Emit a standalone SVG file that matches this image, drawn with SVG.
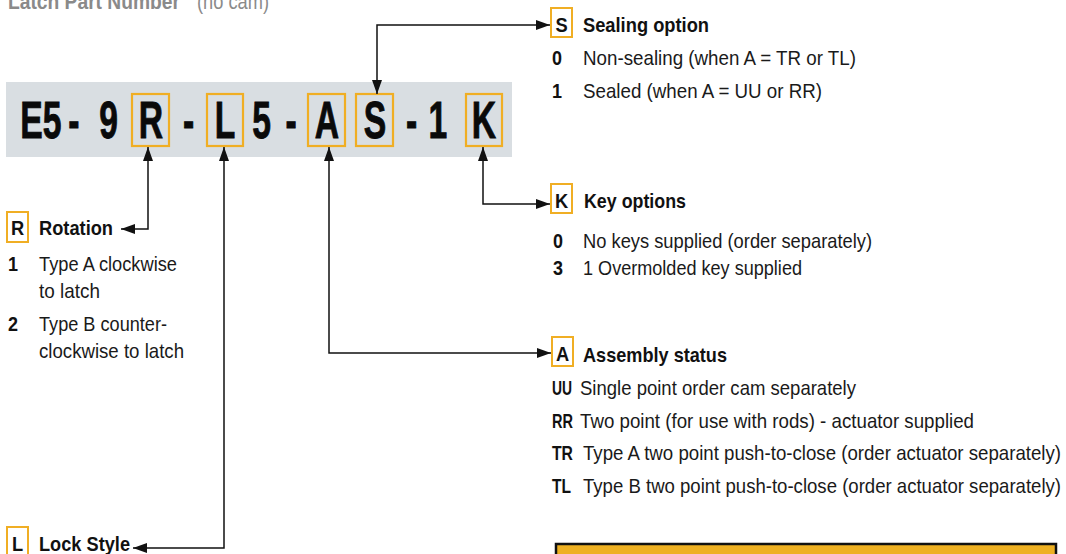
<svg xmlns="http://www.w3.org/2000/svg" width="1066" height="554" viewBox="0 0 1066 554">
<style>
.b{font-family:"Liberation Sans",Arial,sans-serif;font-weight:bold;font-size:21px;fill:#111}
.r{font-family:"Liberation Sans",Arial,sans-serif;font-size:21px;fill:#1a1a1a}
.big{font-family:"Liberation Sans",Arial,sans-serif;font-weight:bold;font-size:51px;fill:#0a0a0a;stroke:#0a0a0a;stroke-width:0.9;text-anchor:middle}
.hl{fill:none;stroke:#f0ae24;stroke-width:2.2}
.lb{fill:#fff;stroke:#f0ae24;stroke-width:2}
.conn{fill:none;stroke:#111;stroke-width:1.5}
.title{font-family:"Liberation Sans",Arial,sans-serif;font-size:22px;fill:#8a8a8a}
</style>
<defs>
<marker id="ah" viewBox="0 0 14 10" refX="14" refY="5" markerWidth="14" markerHeight="10" markerUnits="userSpaceOnUse" orient="auto-start-reverse">
<path d="M0,0 L14,5 L0,10 z" fill="#111"/>
</marker>
</defs>
<rect width="1066" height="554" fill="#fff"/>

<g id="title">
<text class="title" x="8" y="9" font-weight="bold" textLength="172" lengthAdjust="spacingAndGlyphs">Latch Part Number</text>
<text class="title" x="197" y="9" textLength="72" lengthAdjust="spacingAndGlyphs">(no cam)</text>
</g>

<g id="part-code">
<rect x="6" y="82" width="506" height="75" fill="#d9dee2"/>
<g transform="scale(0.66,1)">
<text class="big" x="47.7" y="138">E</text>
<text class="big" x="78.8" y="138">5</text>
<text class="big" x="112.1" y="138">-</text>
<text class="big" x="164.4" y="138">9</text>
<text class="big" x="228.8" y="138">R</text>
<text class="big" x="285.6" y="138">-</text>
<text class="big" x="340.9" y="138">L</text>
<text class="big" x="396.2" y="138">5</text>
<text class="big" x="440.9" y="138">-</text>
<text class="big" x="495.5" y="138">A</text>
<text class="big" x="568.2" y="138">S</text>
<text class="big" x="623.5" y="138">-</text>
<text class="big" x="663.6" y="138">1</text>
<text class="big" x="733.3" y="138">K</text>
</g>
<rect class="hl" x="132" y="94" width="37" height="52"/>
<rect class="hl" x="207" y="94" width="36" height="52"/>
<rect class="hl" x="308" y="94" width="37" height="52"/>
<rect class="hl" x="356" y="94" width="37" height="52"/>
<rect class="hl" x="466" y="94" width="36" height="52"/>
</g>

<g id="connectors">
<path class="conn" d="M377,94 V25 H550" marker-start="url(#ah)" marker-end="url(#ah)"/>
<path class="conn" d="M148,147 V229 H121" marker-start="url(#ah)" marker-end="url(#ah)"/>
<path class="conn" d="M224,147 V548 H133" stroke="#555" stroke-width="2" marker-start="url(#ah)" marker-end="url(#ah)"/>
<path class="conn" d="M329,147 V353 H551" marker-start="url(#ah)" marker-end="url(#ah)"/>
<path class="conn" d="M483,147 V204 H550" marker-start="url(#ah)" marker-end="url(#ah)"/>
</g>

<g id="sealing-option">
<rect class="lb" x="551" y="8" width="21" height="29"/>
<text class="b" transform="translate(561.5,32) scale(0.87,1)" text-anchor="middle">S</text>
<text class="b" x="583" y="32" textLength="126" lengthAdjust="spacingAndGlyphs">Sealing option</text>
<text class="b" x="552" y="65" textLength="10" lengthAdjust="spacingAndGlyphs">0</text>
<text class="r" x="583" y="65" textLength="273" lengthAdjust="spacingAndGlyphs">Non-sealing (when A = TR or TL)</text>
<text class="b" x="552" y="98" textLength="10" lengthAdjust="spacingAndGlyphs">1</text>
<text class="r" x="583" y="98" textLength="239" lengthAdjust="spacingAndGlyphs">Sealed (when A = UU or RR)</text>
</g>

<g id="key-options">
<rect class="lb" x="551" y="184" width="21" height="29"/>
<text class="b" transform="translate(561.5,208) scale(0.87,1)" text-anchor="middle">K</text>
<text class="b" x="584" y="208" textLength="102" lengthAdjust="spacingAndGlyphs">Key options</text>
<text class="b" x="553" y="248" textLength="10" lengthAdjust="spacingAndGlyphs">0</text>
<text class="r" x="583" y="248" textLength="289" lengthAdjust="spacingAndGlyphs">No keys supplied (order separately)</text>
<text class="b" x="553" y="275" textLength="10" lengthAdjust="spacingAndGlyphs">3</text>
<text class="r" x="583" y="275" textLength="219" lengthAdjust="spacingAndGlyphs">1 Overmolded key supplied</text>
</g>

<g id="assembly-status">
<rect class="lb" x="552" y="337" width="21" height="29"/>
<text class="b" transform="translate(562.5,361) scale(0.87,1)" text-anchor="middle">A</text>
<text class="b" x="583" y="362" textLength="144" lengthAdjust="spacingAndGlyphs">Assembly status</text>
<text class="b" x="552" y="395" textLength="20" lengthAdjust="spacingAndGlyphs">UU</text>
<text class="r" x="580" y="395" textLength="276" lengthAdjust="spacingAndGlyphs">Single point order cam separately</text>
<text class="b" x="552" y="428" textLength="21" lengthAdjust="spacingAndGlyphs">RR</text>
<text class="r" x="580" y="428" textLength="394" lengthAdjust="spacingAndGlyphs">Two point (for use with rods) - actuator supplied</text>
<text class="b" x="552" y="460" textLength="21" lengthAdjust="spacingAndGlyphs">TR</text>
<text class="r" x="583" y="460" textLength="478" lengthAdjust="spacingAndGlyphs">Type A two point push-to-close (order actuator separately)</text>
<text class="b" x="552" y="493" textLength="19" lengthAdjust="spacingAndGlyphs">TL</text>
<text class="r" x="583" y="493" textLength="478" lengthAdjust="spacingAndGlyphs">Type B two point push-to-close (order actuator separately)</text>
</g>

<g id="rotation">
<rect class="lb" x="7" y="212" width="21" height="30"/>
<text class="b" transform="translate(17.5,235) scale(0.87,1)" text-anchor="middle">R</text>
<text class="b" x="39" y="235" textLength="74" lengthAdjust="spacingAndGlyphs">Rotation</text>
<text class="b" x="8" y="271" textLength="10" lengthAdjust="spacingAndGlyphs">1</text>
<text class="r" x="39" y="271" textLength="138" lengthAdjust="spacingAndGlyphs">Type A clockwise</text>
<text class="r" x="39" y="298" textLength="61" lengthAdjust="spacingAndGlyphs">to latch</text>
<text class="b" x="8" y="331" textLength="10" lengthAdjust="spacingAndGlyphs">2</text>
<text class="r" x="39" y="331" textLength="128" lengthAdjust="spacingAndGlyphs">Type B counter-</text>
<text class="r" x="39" y="358" textLength="145" lengthAdjust="spacingAndGlyphs">clockwise to latch</text>
</g>

<g id="lock-style">
<rect class="lb" x="7" y="527" width="21" height="34"/>
<text class="b" transform="translate(17.5,551) scale(0.87,1)" text-anchor="middle">L</text>
<text class="b" x="39" y="551" textLength="91" lengthAdjust="spacingAndGlyphs">Lock Style</text>
</g>

<g id="table-header">
<rect x="556" y="544" width="500" height="20" fill="#eeb022" stroke="#111" stroke-width="2.5"/>
</g>
</svg>
